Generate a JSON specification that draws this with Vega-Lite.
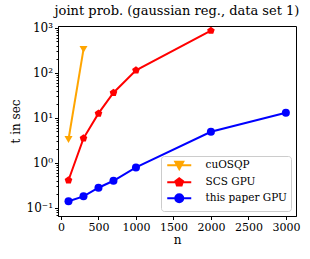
{
  "$schema": "https://vega.github.io/schema/vega-lite/v6.json",
  "width": 238,
  "height": 190,
  "autosize": {"type": "none"},
  "padding": {"left": 58, "top": 26, "right": 14, "bottom": 43},
  "background": "white",
  "title": {"text": "joint prob. (gaussian reg., data set 1)", "font": "'DejaVu Serif', serif", "fontSize": 13, "fontWeight": "normal", "offset": 4, "color": "black"},
  "config": {
    "view": {"stroke": "black", "strokeWidth": 1},
    "axis": {"labelFont": "'DejaVu Serif', serif", "titleFont": "'DejaVu Serif', serif", "labelFontSize": 11, "titleFontSize": 12, "titleFontWeight": "normal", "labelColor": "black", "titleColor": "black", "domainColor": "black", "tickColor": "black", "grid": false}
  },
  "data": {"values": [
    {"n": 100, "t": 3.3, "method": "cuOSQP"},
    {"n": 300, "t": 330, "method": "cuOSQP"},
    {"n": 100, "t": 0.41, "method": "SCS GPU"},
    {"n": 300, "t": 3.5, "method": "SCS GPU"},
    {"n": 500, "t": 12.5, "method": "SCS GPU"},
    {"n": 700, "t": 36, "method": "SCS GPU"},
    {"n": 1000, "t": 113, "method": "SCS GPU"},
    {"n": 2000, "t": 860, "method": "SCS GPU"},
    {"n": 100, "t": 0.14, "method": "this paper GPU"},
    {"n": 300, "t": 0.18, "method": "this paper GPU"},
    {"n": 500, "t": 0.28, "method": "this paper GPU"},
    {"n": 700, "t": 0.4, "method": "this paper GPU"},
    {"n": 1000, "t": 0.79, "method": "this paper GPU"},
    {"n": 2000, "t": 4.9, "method": "this paper GPU"},
    {"n": 3000, "t": 12.9, "method": "this paper GPU"}
  ]},
  "encoding": {
    "x": {"field": "n", "type": "quantitative", "title": "n",
      "scale": {"domain": [-40, 3135], "nice": false, "zero": false},
      "axis": {"values": [0, 500, 1000, 1500, 2000, 2500, 3000], "format": "d", "tickSize": 3.5, "labelPadding": 2, "titlePadding": 2, "labelFlush": false}},
    "y": {"field": "t", "type": "quantitative", "title": "t in sec",
      "scale": {"type": "log", "domain": [0.066, 1090], "nice": false},
      "axis": {"values": [0.07, 0.08, 0.09, 0.1, 0.2, 0.3, 0.4, 0.5, 0.6, 0.7, 0.8, 0.9, 1, 2, 3, 4, 5, 6, 7, 8, 9, 10, 20, 30, 40, 50, 60, 70, 80, 90, 100, 200, 300, 400, 500, 600, 700, 800, 900, 1000],
        "tickSize": {"condition": {"test": "indexof([0.1,1,10,100,1000], datum.value) >= 0", "value": 3.5}, "value": 2},
        "labelExpr": "datum.value == 0.1 ? '10⁻¹' : datum.value == 1 ? '10⁰' : datum.value == 10 ? '10¹' : datum.value == 100 ? '10²' : datum.value == 1000 ? '10³' : ''",
        "labelFontSize": 12, "labelPadding": 2, "titlePadding": 4, "labelFlush": false, "labelOverlap": false}},
    "color": {"field": "method", "type": "nominal",
      "scale": {"domain": ["cuOSQP", "SCS GPU", "this paper GPU"], "range": ["#FFA500", "#FF0000", "#0000FF"]},
      "legend": {"title": null, "orient": "bottom-right", "offset": 5, "labelFont": "'DejaVu Serif', serif", "labelFontSize": 10.5, "labelColor": "black",
        "strokeColor": "#cccccc", "fillColor": "white", "cornerRadius": 3, "padding": 4, "rowPadding": 0, "symbolSize": 64, "symbolStrokeWidth": 2, "symbolOffset": 9, "labelOffset": 21,
        "encode": {"symbols": {"update": {
          "shape": {"signal": "datum.value == 'cuOSQP' ? 'M-3,0L3,0M-1,-0.87L1,-0.87L0,1Z' : datum.value == 'SCS GPU' ? 'M-3,0L3,0M0,-1L0.951,-0.309L0.588,0.809L-0.588,0.809L-0.951,-0.309Z' : 'M-3,0L3,0M-1,0A1,1,0,1,1,1,0A1,1,0,1,1,-1,0Z'"},
          "fill": {"signal": "scale('color', datum.value)"},
          "stroke": {"signal": "scale('color', datum.value)"},
          "strokeWidth": {"value": 2},
          "opacity": {"value": 1}
        }}}}}
  },
  "layer": [
    {"mark": {"type": "line", "strokeWidth": 2}},
    {"mark": {"type": "point", "filled": true, "size": 64, "opacity": 1},
     "encoding": {"shape": {"condition": [
       {"test": "datum.method == 'cuOSQP'", "value": "triangle-down"},
       {"test": "datum.method == 'SCS GPU'", "value": "M0,-1L0.951,-0.309L0.588,0.809L-0.588,0.809L-0.951,-0.309Z"}],
       "value": "circle"}}}
  ]
}
